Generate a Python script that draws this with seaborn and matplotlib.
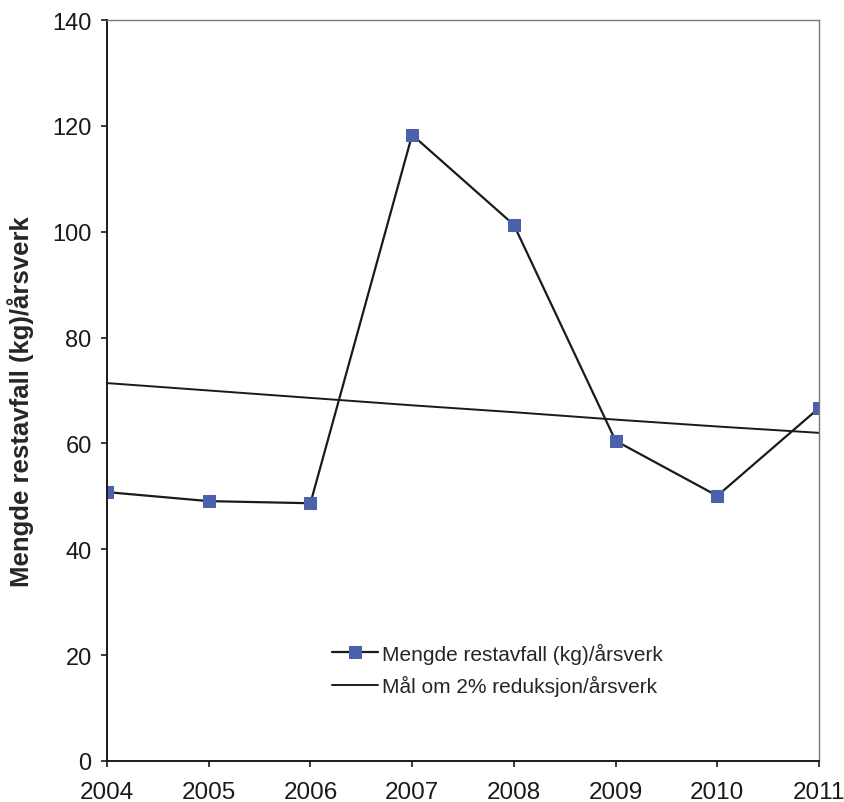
import matplotlib
matplotlib.use("Agg")
import matplotlib.pyplot as plt
import seaborn as sns
import pandas as pd

years = [2004, 2005, 2006, 2007, 2008, 2009, 2010, 2011]
restavfall = [50.8, 49.1, 48.7, 118.3, 101.3, 60.5, 50.1, 66.7]
maal = [71.4, 70.0, 68.6, 67.2, 65.9, 64.5, 63.2, 62.0]
series_names = ["Mengde restavfall (kg)/årsverk", "Mål om 2% reduksjon/årsverk"]
y_ticks = [0, 20, 40, 60, 80, 100, 120, 140]

sns.set_style("white")
plt.rcParams["font.family"] = ["Liberation Sans", "DejaVu Sans"]

df1 = pd.DataFrame({"year": years, "value": restavfall})
df2 = pd.DataFrame({"year": years, "value": maal})

fig = plt.figure(figsize=(8.44, 8.03), dpi=100)
ax = fig.add_axes([107/844, 1 - 762/803, (819-107)/844, (762-21)/803])

sns.lineplot(data=df1, x="year", y="value", ax=ax, color="#1a1a1a", linewidth=1.6,
             marker="s", markersize=8, markerfacecolor="#4b61ab",
             markeredgecolor="#4b61ab", label=series_names[0])
sns.lineplot(data=df2, x="year", y="value", ax=ax, color="#1a1a1a", linewidth=1.4,
             label=series_names[1])

ax.set_xlim(2004, 2011)
ax.set_ylim(0, 140)
ax.set_yticks(y_ticks)
ax.set_xticks(years)
ax.set_xticklabels([str(y) for y in years])
ax.set_xlabel("")
ax.set_ylabel("Mengde restavfall (kg)/årsverk", fontsize=18.5, fontweight="bold")
ax.yaxis.set_label_coords(-0.103, 0.486)
ax.tick_params(axis="both", direction="out", width=1.2,
               bottom=True, left=True, colors="#1a1a1a")
ax.tick_params(axis="y", labelsize=17, length=4, pad=7)
ax.tick_params(axis="x", labelsize=17.5, length=4.5, pad=10)
for s in ["left", "bottom"]:
    ax.spines[s].set_color("#1a1a1a")
    ax.spines[s].set_linewidth(1.4)
for s in ["top", "right"]:
    ax.spines[s].set_color("#777777")
    ax.spines[s].set_linewidth(1.0)

leg = ax.legend(loc="upper left", bbox_to_anchor=(0.29, 0.185), frameon=False,
                fontsize=15, handlelength=2.2, handletextpad=0.2, labelspacing=0.55)

fig.savefig("out.png", dpi=100)
